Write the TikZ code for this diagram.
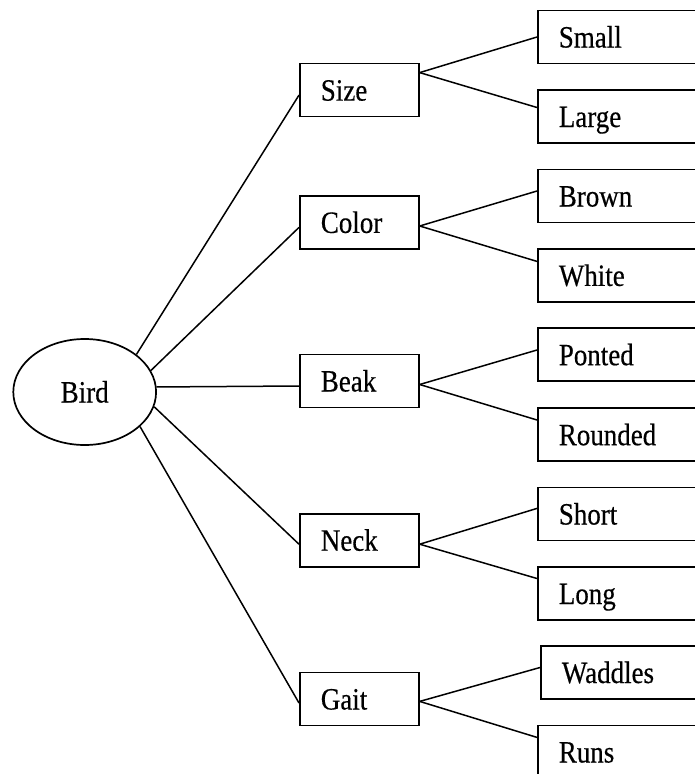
\documentclass[tikz,border=0pt]{standalone}
\usepackage{fontspec}
\setmainfont[FakeStretch=0.87,FakeBold=0.4]{Liberation Serif}
\usetikzlibrary{shapes.geometric}
\begin{document}
\begin{tikzpicture}[x=1pt,y=-1pt,
  every node/.style={font=\fontsize{31}{31}\selectfont},
  midbox/.style={draw,line width=1.7pt,rectangle,anchor=west,minimum width=119pt,minimum height=53pt,
    text width=77pt,inner xsep=21pt,inner ysep=0pt,align=left,text height=21pt,text depth=0pt},
  leafbox/.style={draw,line width=1.7pt,rectangle,anchor=west,minimum width=200pt,minimum height=53pt,
    text width=158pt,inner xsep=21pt,inner ysep=0pt,align=left,text height=21pt,text depth=0pt},
  conn/.style={line width=1.5pt}]
\useasboundingbox (0,0) rectangle (695,774);
\clip (0,0) rectangle (695,774);
\node[draw,ellipse,line width=1.7pt,minimum width=142.8pt,minimum height=106pt,inner sep=0pt,text height=21pt,text depth=0pt] (bird) at (84.7,392) {Bird\hspace{12pt}};
\node[midbox] (size)  at (299,90.1)  {Size};
\node[midbox] (color) at (299,222.4) {Color};
\node[midbox] (beak)  at (299,381)   {Beak};
\node[midbox] (neck)  at (299,540.2) {Neck};
\node[midbox] (gait)  at (299,699)   {Gait};
\node[leafbox] (small)   at (537,37)    {Small};
\node[leafbox] (large)   at (537,116.5) {Large};
\node[leafbox] (brown)   at (537,196)   {Brown};
\node[leafbox] (white)   at (537,275.4) {White};
\node[leafbox] (ponted)  at (537,354.7) {Ponted};
\node[leafbox] (rounded) at (537,434.7) {Rounded};
\node[leafbox] (short)   at (537,514)   {Short};
\node[leafbox] (long)    at (537,593.5) {Long};
\node[leafbox] (waddles) at (540,672.5) {Waddles};
\node[leafbox] (runs)    at (537,752)   {Runs};
\draw[conn] (bird.36.4)  -- ([yshift=-5pt]size.west);
\draw[conn] (bird.18.9)  -- ([yshift=-5pt]color.west);
\draw[conn] (bird.4.4)   -- ([yshift=-5pt]beak.west);
\draw[conn] (bird.-12.6) -- ([yshift=-4pt]neck.west);
\draw[conn] (bird.-32.4) -- ([yshift=-4pt]gait.west);
\draw[conn] ([yshift=17.5pt]size.east) -- (small.west);
\draw[conn] ([yshift=17.5pt]size.east) -- ([yshift=9pt]large.west);
\draw[conn] ([yshift=-3.6pt]color.east) -- ([yshift=5pt]brown.west);
\draw[conn] ([yshift=-3.6pt]color.east) -- ([yshift=14pt]white.west);
\draw[conn] ([yshift=-3.5pt]beak.east) -- ([yshift=4.7pt]ponted.west);
\draw[conn] ([yshift=-3.5pt]beak.east) -- ([yshift=14.7pt]rounded.west);
\draw[conn] ([yshift=-4pt]neck.east) -- ([yshift=5.6pt]short.west);
\draw[conn] ([yshift=-4pt]neck.east) -- ([yshift=15pt]long.west);
\draw[conn] ([yshift=-2.4pt]gait.east) -- ([yshift=5pt]waddles.west);
\draw[conn] ([yshift=-2.4pt]gait.east) -- ([yshift=14.6pt]runs.west);
\end{tikzpicture}
\end{document}
